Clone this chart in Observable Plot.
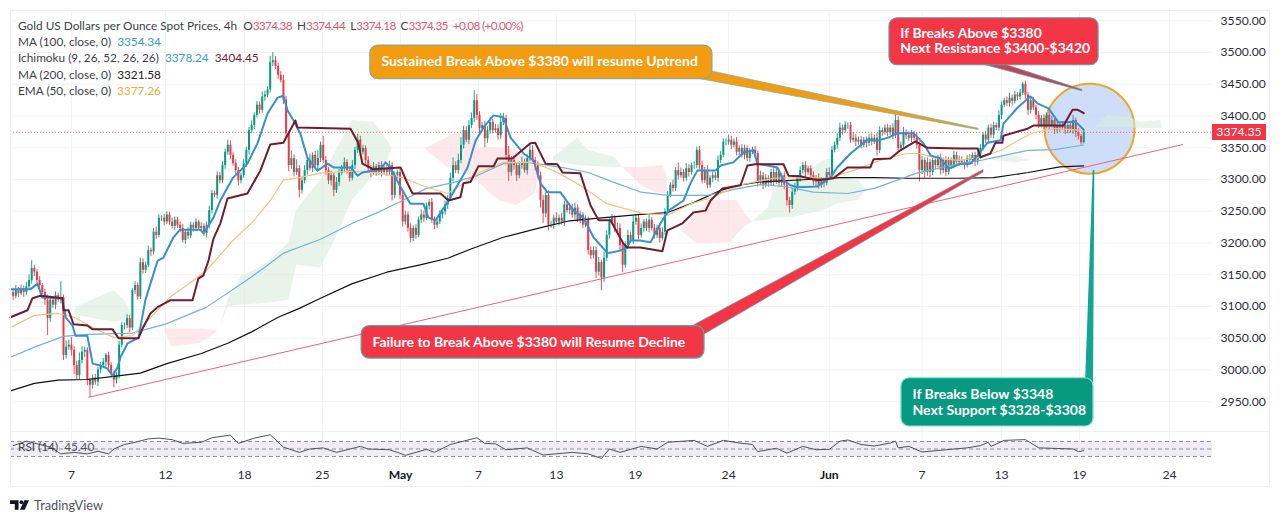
<!DOCTYPE html>
<html><head><meta charset="utf-8">
<script src="https://cdn.jsdelivr.net/npm/d3@7"></script>
<script src="https://cdn.jsdelivr.net/npm/@observablehq/plot@0.6"></script>
<style>
html,body{margin:0;padding:0;background:#fff;width:1280px;height:522px;overflow:hidden;font-family:Lato,"Liberation Sans",sans-serif}
#wrap{position:relative;width:1280px;height:522px}
#main,#rsi{position:absolute;left:0}
#main{top:0}#rsi{top:431px}
#frame{position:absolute;left:10px;top:10px;width:1260px;height:477px;border:1px solid #eef0f4;box-sizing:border-box;pointer-events:none}
#sep{position:absolute;left:10px;top:431px;width:1260px;height:1px;background:#eef0f4}
#legend{position:absolute;left:18px;top:18px;font-size:11.8px;line-height:16.2px;color:#3c3f48;white-space:pre}
#rsil{position:absolute;left:18px;top:439px;font-size:11.8px;color:#3c3f48;white-space:pre}
#last{position:absolute;left:1212px;top:124px;width:54px;height:16px;background:#f23645;color:#fff;font-size:12.2px;line-height:16px;text-align:center}
#foot{position:absolute;left:10px;top:497px;height:16px;display:flex;align-items:center;gap:5px;color:#50535e;font-size:12.8px}
svg{display:block}
</style></head><body>
<div id="wrap">
<div id="main"></div><div id="rsi"></div><div id="frame"></div><div id="sep"></div>
<div id="legend"></div><div id="rsil">RSI (14)  <span style="color:#555">45.40</span></div>
<div id="last">3374.35</div>
<div id="foot"><svg width="19" height="10" viewBox="0 0 20 10"><path d="M0 0h9v10H5V4H0z M15 0h5l-4.5 10h-5z" fill="#131722"/><circle cx="12" cy="2" r="2" fill="#131722"/></svg><span>TradingView</span></div>
</div>
<script>
const closes=[3122,3116,3125,3120,3128,3122,3131,3141,3160,3154,
3141,3133,3122,3110,3081,3110,3102,3117,3110,3114,
3023,3036,3039,3031,3007,2991,3015,3028,3031,2984,
2976,2987,2981,3000,3007,3012,3023,3007,2995,2984,
2991,3039,3070,3070,3081,3066,3125,3133,3115,3169,
3157,3165,3188,3186,3217,3212,3239,3239,3233,3244,
3233,3226,3236,3228,3223,3204,3217,3211,3228,3223,
3233,3223,3226,3215,3228,3251,3278,3275,3306,3298,
3322,3343,3354,3338,3325,3314,3298,3306,3325,3346,
3377,3385,3401,3417,3409,3430,3433,3441,3484,3487,
3478,3464,3456,3425,3372,3322,3333,3311,3317,3283,
3298,3314,3330,3317,3338,3322,3333,3354,3330,3314,
3298,3306,3283,3295,3310,3317,3327,3314,3302,3322,
3346,3362,3343,3349,3330,3317,3311,3320,3311,3322,
3311,3317,3311,3322,3275,3306,3311,3275,3233,3244,
3223,3207,3223,3212,3236,3244,3239,3258,3264,3236,
3228,3233,3244,3249,3260,3270,3302,3322,3314,3330,
3354,3377,3362,3385,3396,3424,3401,3380,3385,3364,
3377,3390,3377,3380,3369,3390,3396,3338,3311,3330,
3322,3306,3322,3327,3314,3333,3346,3330,3322,3306,
3267,3246,3275,3228,3228,3239,3233,3239,3233,3260,
3251,3255,3244,3255,3236,3244,3228,3236,3188,3180,
3188,3154,3169,3145,3176,3212,3233,3239,3223,3223,
3196,3165,3196,3212,3204,3233,3239,3212,3223,3233,
3223,3236,3223,3212,3223,3207,3217,3249,3275,3291,
3286,3314,3306,3311,3302,3317,3311,3322,3322,3346,
3322,3298,3314,3291,3302,3306,3302,3330,3338,3359,
3359,3362,3354,3359,3343,3349,3338,3349,3333,3343,
3346,3341,3296,3306,3291,3302,3294,3311,3296,3311,
3294,3306,3291,3267,3259,3280,3286,3302,3314,3322,
3311,3317,3306,3296,3302,3291,3298,3294,3311,3306,
3346,3354,3365,3381,3377,3385,3385,3362,3365,3359,
3362,3354,3362,3357,3365,3359,3365,3346,3377,3374,
3381,3374,3381,3369,3393,3349,3354,3374,3369,3365,
3372,3365,3354,3314,3330,3311,3327,3311,3330,3322,
3333,3314,3330,3311,3330,3322,3338,3327,3330,3327,
3322,3333,3330,3338,3327,3338,3349,3370,3362,3381,
3370,3385,3381,3401,3417,3424,3420,3428,3423,3433,
3430,3436,3450,3433,3409,3424,3413,3401,3385,3396,
3385,3401,3385,3393,3377,3385,3381,3385,3377,3385,
3377,3393,3374,3368,3358,3374.35];
const upWick=[6,4,8,5,6,4,7,9,12,5,
4,6,3,5,8,6,5,6,4,25,
4,10,8,12,6,7,12,9,5,4,
3,5,6,4,5,6,3,5,4,3,
5,6,5,4,6,5,3,6,4,7,
6,5,7,4,6,8,5,4,6,5,
4,6,5,4,5,6,4,7,5,4,
5,3,6,4,5,7,5,4,6,5,
6,5,8,7,4,6,5,4,6,5,
5,7,4,6,5,8,6,5,10,13,
7,5,6,8,6,4,12,6,14,5,
6,8,5,10,4,6,12,5,14,6,
5,7,4,8,6,5,7,4,6,8,
5,9,6,5,4,6,5,7,4,5,
6,4,5,7,5,6,4,5,8,6,
5,7,4,6,5,8,6,5,4,6,
5,4,7,5,6,5,8,12,6,10,
12,7,6,8,9,16,10,6,5,7,
6,8,5,7,6,14,8,5,14,6,
7,5,6,8,5,6,9,7,5,6,
6,8,5,7,6,5,9,5,8,6,
5,7,6,8,5,6,4,7,5,6,
6,5,8,4,10,7,5,6,4,8,
7,5,6,8,5,9,6,5,7,4,
5,7,4,6,5,4,7,5,6,4,
8,5,12,7,5,8,6,4,6,5,
6,7,5,8,4,6,5,7,6,5,
5,8,6,5,7,4,6,5,4,6,
5,6,4,7,5,6,4,5,6,7,
5,4,6,7,5,6,8,4,6,5,
6,4,5,6,4,7,5,4,6,7,
6,5,7,8,5,6,4,5,9,6,
5,6,4,5,6,7,5,8,6,4,
5,6,4,7,11,6,5,8,4,6,
5,4,8,5,6,4,7,5,6,4,
5,7,4,6,5,4,6,5,7,6,
4,5,6,4,5,7,6,4,6,5,
6,5,4,7,5,4,6,8,5,6,
4,6,3,5,4,6,5,4,6,5,
6,4,5,7,4,6,5,4,5,6,
5,8,4,6,3,3];
const downWick=[5,7,4,6,3,8,5,4,6,7,
5,6,4,8,27,6,5,7,4,6,
8,6,5,9,14,6,7,5,8,9,
19,6,5,7,6,4,8,5,6,12,
6,5,4,7,5,8,4,6,5,4,
6,5,4,7,5,6,4,5,6,4,
5,4,6,5,7,4,6,5,4,6,
5,4,6,5,7,6,5,4,6,5,
4,6,5,7,4,6,8,5,4,6,
7,5,6,4,6,5,7,4,5,6,
5,6,4,7,8,10,6,7,5,12,
6,5,7,4,6,5,8,6,5,7,
6,8,10,5,6,4,7,5,6,4,
6,5,7,4,6,5,8,4,6,5,
7,4,6,5,9,6,5,7,8,5,
6,7,5,6,4,5,7,4,6,5,
7,5,4,6,5,7,4,6,5,6,
5,6,4,7,5,6,8,10,5,14,
7,6,5,4,7,6,5,8,14,6,
7,9,5,6,4,7,5,6,8,5,
12,15,6,9,5,7,4,6,5,7,
4,6,5,7,4,6,5,4,7,6,
5,10,6,20,7,5,6,4,7,6,
8,12,5,6,4,6,5,7,4,6,
5,7,4,6,5,7,4,5,6,4,
6,5,7,4,6,5,7,4,6,5,
7,5,4,6,5,7,4,6,5,4,
6,5,7,4,6,5,4,7,5,6,
4,6,8,5,7,4,6,5,7,4,
6,5,7,9,12,6,5,4,6,5,
7,4,6,5,8,6,5,7,4,6,
5,4,6,5,7,4,6,5,4,7,
5,6,4,7,5,6,4,9,5,6,
4,7,5,6,5,8,5,4,6,5,
7,4,6,18,6,9,6,8,5,6,
4,7,5,6,4,6,5,4,6,5,
6,4,5,6,7,5,6,4,5,7,
5,6,4,5,7,4,5,6,7,4,
6,5,4,7,8,6,5,7,5,4,
6,5,7,4,6,5,7,4,6,5,
4,6,8,6,4,2];

const ma200Bars=[0,9,18,29,39,49,59,72,82,91,101,109,117,129,142,155,165,174,186,199,211,224,238,248,258,268,275,282,301,313,326,338,358,371,384,396,405];
const ma200Vals=[2967,2979,2984,2985,2990,2995,3010,3026,3042,3060,3083,3097,3113,3136,3154,3166,3176,3191,3209,3223,3235,3240,3245,3248,3264,3283,3291,3296,3300,3303,3303,3302,3302,3303,3311,3320,3321.58];
const ma100Bars=[0,9,20,29,46,59,74,89,97,103,117,129,138,148,157,167,176,186,195,208,218,228,238,248,263,275,283,292,303,316,326,342,358,366,375,384,394,405];
const ma100Vals=[3020,3036,3053,3056,3058,3073,3099,3141,3165,3184,3206,3231,3247,3267,3286,3295,3306,3325,3327,3319,3311,3295,3280,3275,3275,3286,3292,3289,3280,3278,3286,3310,3325,3330,3338,3346,3347,3354.34];
const ema50Bars=[0,9,18,24,31,39,46,53,60,69,74,84,92,98,103,109,117,128,137,148,155,165,171,177,186,197,205,215,225,238,248,257,265,275,288,301,308,318,328,338,343,350,358,366,374,380,386,394,405];
const ema50Vals=[3067,3086,3089,3083,3067,3051,3054,3083,3114,3141,3157,3204,3236,3267,3299,3303,3310,3313,3311,3303,3291,3278,3294,3311,3327,3327,3314,3291,3262,3247,3244,3262,3272,3291,3302,3303,3302,3314,3330,3341,3341,3333,3330,3335,3346,3361,3374,3380,3377.26];
const tenkanBars=[0,7.5,10.2,12,19.6,20.8,23.4,24.5,29,31,34,36.6,38.5,40.4,41.5,44.2,48.3,50.9,55.5,57.7,61.5,64,71.7,72.8,76.6,79.2,84,89.4,93.2,97,100.8,103,104.5,106.8,109.4,112,115.8,117,119.6,121.9,128.3,131,132.8,139.6,141.5,143.4,147.2,150.9,155.8,157.7,160.4,164.9,169.8,172.5,175.5,178.5,182.3,186,188.7,193.6,197.4,200,202.6,207.5,212.5,216.2,220,225.3,230.2,232.8,234,237.7,241.5,245.3,248.3,254,256.6,259.2,266,268,272.8,276.6,280.4,281.9,289.4,291.7,294.3,297,304.5,309.4,312,317,320.8,323.4,327,331.3,334.7,340.8,344.5,347.2,351,354,358.5,362.3,364.9,368.7,373.6,374.7,380,384.9,387.5,391.7,395.5,401.9,405];
const tenkanVals=[3127,3127,3136,3114,3113,3083,3070,3054,3054,3010,3007,3002,2991,3004,3020,3042,3051,3110,3172,3177,3209,3221,3221,3215,3240,3267,3303,3325,3357,3404,3429,3432,3409,3393,3372,3335,3314,3317,3325,3319,3319,3306,3311,3316,3327,3319,3288,3262,3262,3240,3236,3264,3299,3319,3361,3382,3401,3398,3366,3341,3330,3294,3280,3280,3251,3240,3209,3184,3188,3193,3204,3204,3201,3231,3251,3267,3294,3314,3314,3322,3327,3343,3346,3325,3319,3299,3291,3288,3289,3303,3319,3341,3354,3363,3361,3366,3373,3373,3357,3338,3333,3317,3325,3325,3338,3358,3362,3388,3413,3431,3420,3412,3390,3391,3378.24];
const kijunBars=[0,6.4,8.3,11.3,19.6,20,21.9,23.8,29,31,38.5,40.8,48.3,49.8,52.8,55.5,60.4,68.7,70.9,72.8,74.7,76.6,79.2,81.9,89.4,94.3,98,103,107.5,108.3,128.3,131.3,132.8,137,147.2,149.8,151.7,162.3,165.3,169.8,170.9,173.6,176.6,182.3,183.8,189.4,196.2,198,201.9,206.4,208.3,215,218.9,221.9,226.4,231.3,232.8,237.7,246,247.9,253.6,257.7,262.3,264.2,268.7,275.5,278.1,281,291.7,293.6,298,304.5,310.6,315.8,324.5,325.7,332,335.8,341.5,346,358.5,365,366,369.8,371.7,374.3,374.7,383.8,386,397.4,400.8,402.6,405];
const kijunVals=[3083,3094,3113,3117,3113,3094,3094,3072,3070,3064,3064,3050,3050,3065,3089,3099,3110,3110,3144,3149,3172,3207,3231,3270,3278,3314,3355,3358,3393,3382,3380,3357,3325,3316,3319,3294,3278,3278,3267,3272,3294,3296,3321,3321,3333,3333,3357,3358,3325,3324,3311,3310,3259,3236,3236,3199,3193,3193,3187,3220,3231,3248,3251,3267,3286,3291,3322,3324,3324,3306,3305,3299,3302,3319,3319,3332,3333,3346,3360,3350,3349,3349,3335,3341,3358,3358,3369,3380,3385,3385,3410,3410,3404.45];

const cloudBars1=[24,25,39,43,46],cloudUp1=[3089,3099,3125,3110,3086],cloudLo1=[3089,3086,3075,3078,3086];
const cloudBars2=[58,61,72,78],cloudUp2=[3065,3065,3064,3062],cloudLo2=[3063,3036,3042,3060];
const cloudBars3=[79,82,87,97,105,108,117,123,129,137,141,144],cloudUp3=[3067,3110,3146,3168,3200,3252,3299,3346,3393,3390,3369,3349],cloudLo3=[3067,3099,3102,3105,3110,3165,3161,3209,3267,3305,3314,3349];
const cloudBars4=[157,165,170,175,177,184,191,198,200],cloudUp4=[3350,3366,3377,3377,3350,3350,3346,3330,3314],cloudLo4=[3346,3319,3313,3302,3294,3267,3259,3278,3311];
const cloudBars5=[205,214,218,228,231],cloudUp5=[3335,3365,3346,3335,3319],cloudLo5=[3330,3322,3321,3319,3319];
const cloudBars6=[231,238,243,246,248],cloudUp6=[3319,3319,3321,3322,3303],cloudLo6=[3319,3291,3280,3278,3278];
const cloudBars7=[253,259,263,272,274,277,280],cloudUp7=[3220,3244,3267,3267,3267,3247,3233],cloudLo7=[3220,3199,3199,3201,3212,3225,3233];
const cloudBars8=[280,286,288,295,307,311,312,320,323],cloudUp8=[3233,3256,3283,3299,3330,3333,3303,3299,3283],cloudLo8=[3233,3236,3239,3240,3251,3259,3262,3267,3283];
const cloudBars9=[366,379,385],cloudUp9=[3333,3338,3330],cloudLo9=[3333,3326,3330];
const cloudBars10=[409,414,422,426,434,435],cloudUp10=[3382,3401,3398,3390,3393,3380],cloudLo10=[3382,3382,3382,3380,3380,3380];

const rsiBars=[1,6,10,15,19,24,29,33,37,39,43,47,52,56,61,65,72,76,83,86,92,98,103,109,113,118,123,127,132,135,143,146,149,157,160,166,176,179,183,187,195,201,212,218,223,226,230,237,238,244,248,258,263,269,275,280,282,289,293,299,304,309,313,316,321,326,332,334,335,339,344,353,361,366,369,370,375,383,388,401,403,405];
const rsiVals=[59,71,64,55,37,41,37,44,37,50,62,68,77,79,75,65,68,80,87,65,79,88,55,41,50,53,41,48,57,50,48,41,33,49,41,62,80,65,64,48,53,34,41,37,25,50,41,55,57,50,68,73,57,73,66,62,43,52,39,57,48,49,71,74,62,58,66,71,53,57,42,48,53,59,68,57,73,75,53,50,43,45.4];

const tickBars=[23,58.5,88.3,117.7,176.6,206,235.8,271,344,374,403.4,437.4];
const tickLabels=["7","12","18","25","7","13","19","24","7","13","19","24"];
const monthBars=[147.2,309],monthLabels=["May","Jun"];
const priceTicks=[2950,3000,3050,3100,3150,3200,3250,3300,3350,3400,3450,3500,3550];
const lastPrice=3374.35;
const trendBars=[29.5,442.3],trendVals=[2957,3355];
const calloutText=["Sustained Break Above $3380 will resume Uptrend","Failure to Break Above $3380 will Resume Decline","If Breaks Above $3380","Next Resistance $3400-$3420","If Breaks Below $3348","Next Support $3328-$3308"];
const textBars=[140,136.6,335.8,335.8,340.4,340.4],textVals=[3486,3043,3530,3506,2962,2936.5];
const boxLeft=[135.8,132.5,331.7,336.2],boxRight=[264.9,261.9,410.6,408.7],boxTop=[3511,3069,3554,2987],boxBottom=[3458,3018,3480,2911];
const boxFill=["#f39c12","#f23645","#f23645","#089981"],boxEdge=["#8aa890","#5aa6a6","#6a9aa8","#7fe6da"];

const bars=closes.map((c,i)=>{const o=i?closes[i-1]:c;return {i,o,c,hi:Math.max(o,c)+upWick[i],lo:Math.min(o,c)-downWick[i],up:c>=o}});
const series=(xs,ys)=>xs.map((x,k)=>({x,y:ys[k]}));
const xDomain=[0,453.6];
const cloud=(xs,u,l,fill)=>Plot.areaY(xs.map((x,k)=>({x,u:u[k],l:l[k]})),{x:"x",y1:"u",y2:"l",fill,fillOpacity:.6});
const GREEN="#d8ebdc",RED="#fbdadd";
const wedge=(xs,y1,y2,fill,stroke)=>Plot.areaY(xs.map((x,k)=>({x,a:y1[k],b:y2[k]})),{x:"x",y1:"a",y2:"b",fill,stroke,strokeWidth:.7});
const line=(s,stroke,w)=>Plot.line(s,{x:"x",y:"y",stroke,strokeWidth:w});

const font='Lato,"Liberation Sans",sans-serif';
const main=Plot.plot({width:1280,height:432,marginLeft:10,marginRight:68,marginTop:10,marginBottom:1,
 style:{fontFamily:font,background:"transparent"},
 x:{domain:xDomain,axis:null},
 y:{domain:[2903.1,3566.2],axis:null},
 marks:[
  Plot.ruleX(tickBars.concat(monthBars),{stroke:"#f1f3f6",strokeWidth:1}),
  Plot.ruleY(priceTicks,{stroke:"#f1f3f6",strokeWidth:1}),
  Plot.axisY(priceTicks,{anchor:"right",tickSize:0,tickPadding:8,tickFormat:d3.format(".2f"),fontSize:12.2,color:"#2a2e39",label:null}),
  Plot.dot([{x:407.2,y:3380}],{x:"x",y:"y",r:45,fill:"#c5d8f7",fillOpacity:.85,stroke:"#eea62d",strokeWidth:2}),
  cloud(cloudBars1,cloudUp1,cloudLo1,GREEN),cloud(cloudBars2,cloudUp2,cloudLo2,RED),cloud(cloudBars3,cloudUp3,cloudLo3,GREEN),
  cloud(cloudBars4,cloudUp4,cloudLo4,RED),cloud(cloudBars5,cloudUp5,cloudLo5,GREEN),cloud(cloudBars6,cloudUp6,cloudLo6,RED),
  cloud(cloudBars7,cloudUp7,cloudLo7,RED),cloud(cloudBars8,cloudUp8,cloudLo8,GREEN),cloud(cloudBars9,cloudUp9,cloudLo9,GREEN),cloud(cloudBars10,cloudUp10,cloudLo10,GREEN),
  Plot.ruleY([lastPrice],{stroke:"#f23645",strokeWidth:1,strokeDasharray:"1,2",strokeOpacity:.7}),
  line(series(trendBars,trendVals),"#e8667c",1),
  Plot.ruleX(bars.filter(d=>d.up),{x:"i",y1:"lo",y2:"hi",stroke:"#089981",strokeWidth:.9}),
  Plot.ruleX(bars.filter(d=>!d.up),{x:"i",y1:"lo",y2:"hi",stroke:"#f23645",strokeWidth:.9}),
  Plot.ruleX(bars.filter(d=>d.up),{x:"i",y1:"o",y2:"c",stroke:"#089981",strokeWidth:2}),
  Plot.ruleX(bars.filter(d=>!d.up),{x:"i",y1:"o",y2:"c",stroke:"#f23645",strokeWidth:2}),
  line(series(ma200Bars,ma200Vals),"#111",1.2),
  line(series(ma100Bars,ma100Vals),"#72b4d8",1.2),
  line(series(ema50Bars,ema50Vals),"#f4c27f",1.2),
  line(series(tenkanBars,tenkanVals),"#3590d3",2),
  line(series(kijunBars,kijunVals),"#701c2c",2),
  wedge([260.4,365.3],[3474,3380],[3458,3378],"#f39c12","#6fb5a8"),
  wedge([257.4,367.2],[3069,3315],[3045,3311],"#f23645","#5aa6a6"),
  wedge([368,404.5],[3491,3441],[3480,3439],"#c0455c","#5aa6a6"),
  Plot.areaX([{y:2980,a:405.7,b:408.7},{y:3314,a:408.6,b:409.2}],{y:"y",x1:"a",x2:"b",fill:"#12a594"}),
  Plot.rect(boxFill.map((f,k)=>({k})),{x1:d=>boxLeft[d.k],x2:d=>boxRight[d.k],y1:d=>boxBottom[d.k],y2:d=>boxTop[d.k],fill:d=>boxFill[d.k],stroke:d=>boxEdge[d.k],strokeWidth:1.2,rx:8}),
  Plot.text(calloutText,{x:(d,k)=>textBars[k],y:(d,k)=>textVals[k],text:d=>d,textAnchor:"start",fill:"#fff",fontSize:14,fontWeight:700,lineAnchor:"middle"})
 ]});
document.getElementById("main").append(main);

const rsi=Plot.plot({width:1280,height:57,marginLeft:10,marginRight:68,marginTop:0,marginBottom:25,
 style:{fontFamily:font,background:"transparent"},
 x:{domain:xDomain,axis:null},y:{domain:[11.3,96.7],axis:null},
 marks:[
  Plot.ruleX(tickBars.concat(monthBars),{stroke:"#f1f3f6"}),
  Plot.rectY([{a:30,b:70}],{x1:xDomain[0],x2:xDomain[1],y1:"a",y2:"b",fill:"#efecf8"}),
  Plot.ruleY([30,50,70],{stroke:"#787b86",strokeWidth:.8,strokeDasharray:"4,3"}),
  Plot.line(series(rsiBars,rsiVals),{x:"x",y:"y",stroke:"#4f5159",strokeWidth:1}),
  Plot.axisX(tickBars,{anchor:"bottom",tickSize:0,tickPadding:7,tickFormat:(d,k)=>tickLabels[tickBars.indexOf(d)],fontSize:12.2,color:"#2a2e39",label:null}),
  Plot.axisX(monthBars,{anchor:"bottom",tickSize:0,tickPadding:7,tickFormat:(d,k)=>monthLabels[monthBars.indexOf(d)],fontSize:12.2,fontWeight:700,color:"#131722",label:null})
 ]});
document.getElementById("rsi").append(rsi);

const red=s=>`<span style="color:#dd5a6e;letter-spacing:-.65px">${s}</span>`;
const col=(s,c)=>`<span style="color:${c}">${s}</span>`;
const gap=`<span style="display:inline-block;width:5px"></span>`;
document.getElementById("legend").innerHTML=
`Gold US Dollars per Ounce Spot Prices, 4h  O${red("3374.38")}${gap}H${red("3374.44")}${gap}L${red("3374.18")}${gap}C${red("3374.35")}${gap}${red("+0.08 (+0.00%)")}
MA (100, close, 0)  ${col("3354.34","#3a9bd0")}
Ichimoku (9, 26, 52, 26, 26)  ${col("3378.24","#3a9bd0")}  ${col("3404.45","#701c2c")}
MA (200, close, 0)  ${col("3321.58","#222")}
EMA (50, close, 0)  ${col("3377.26","#f0a93b")}`;
</script></body></html>
